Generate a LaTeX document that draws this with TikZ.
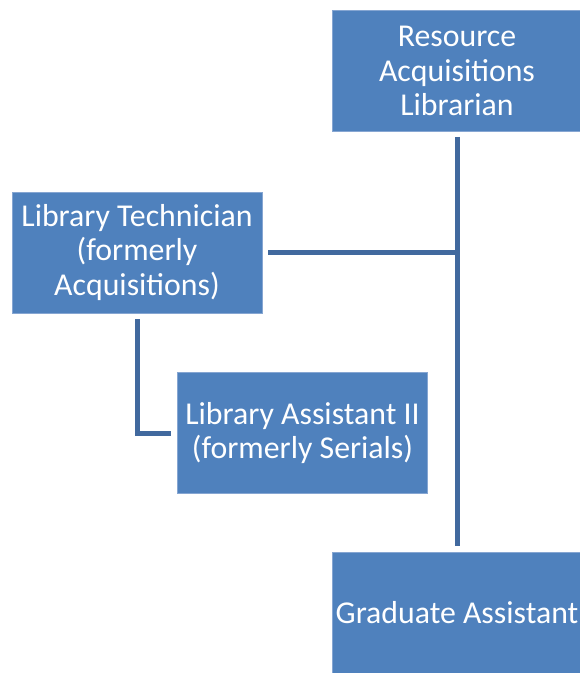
\documentclass[tikz,border=0pt]{standalone}
\usepackage{fontspec}
\setmainfont{Carlito}
\usepackage{xcolor}
\definecolor{boxblue}{HTML}{4F81BD}
\definecolor{boxedge}{HTML}{86A6D2}
\definecolor{linkblue}{HTML}{41699E}

\begin{document}
\begin{tikzpicture}[x=1pt, y=-1pt,
  every node/.style={font=\fontsize{31.8}{34.5}\selectfont, text=white, align=center},
  rolebox/.style={rectangle, fill=boxblue, draw=boxedge, line width=0.8pt, minimum width=250pt, minimum height=121pt, inner sep=0pt},
  link/.style={draw=linkblue, line width=5pt}]
\useasboundingbox (0,0) rectangle (580,673);
% Boxes
\node[rolebox] (librarian) at (457, 71) {Resource\\Acquisitions\\Librarian};
\node[rolebox] (technician) at (137, 252.5) {Library Technician\\(formerly\\Acquisitions)};
\node[rolebox] (assistant) at (302.5, 433) {Library Assistant II\\(formerly Serials)};
\node[rolebox] (graduate) at (457, 613) {Graduate Assistant};
\coordinate (junction) at (457, 252.5);
% Connectors
\draw[link, shorten <=5pt, shorten >=6pt] (librarian) -- (graduate);
\draw[link, shorten <=6pt] (technician) -- (junction);
\draw[link, shorten <=6pt, shorten >=6pt] (technician) |- (assistant);
\end{tikzpicture}
\end{document}
